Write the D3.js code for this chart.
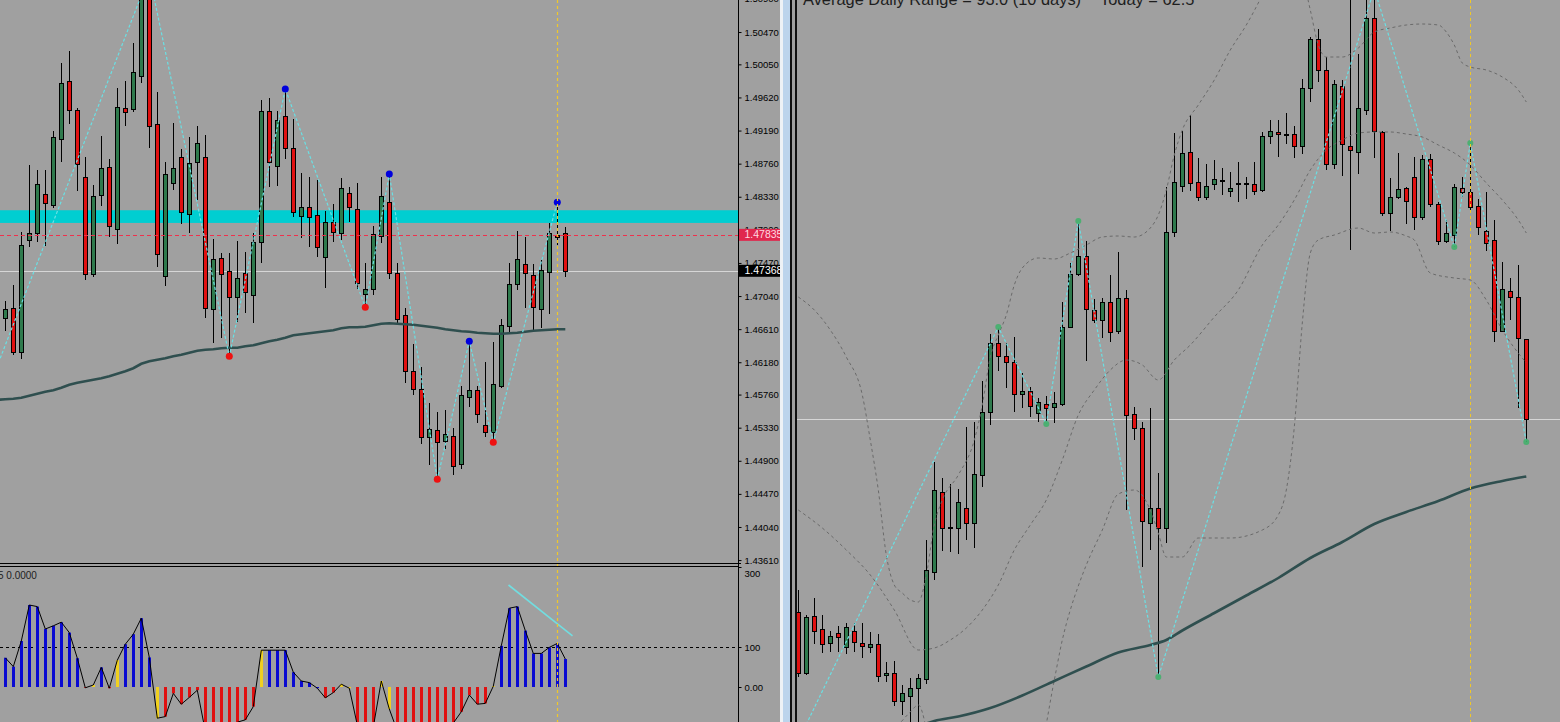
<!DOCTYPE html>
<html><head><meta charset="utf-8">
<script src="https://cdn.jsdelivr.net/npm/d3@7"></script>
<style>html,body{margin:0;padding:0;background:#a0a0a0;overflow:hidden}svg{display:block}</style>
</head><body>
<svg id="c" width="1560" height="722"></svg>
<script>
// ---------- LEFT CHART DATA (price) ----------
const leftOpen = [1.46752,1.46882,1.46310,1.47766,1.47857,1.48364,1.48221,1.49079,1.49833,1.49456,
1.48585,1.47324,1.48351,1.48715,1.47909,1.49482,1.49469,1.49898,1.50925,1.49274,
1.47298,1.48507,1.48845,1.48104,1.48780,1.48845,1.46869,1.47532,1.47363,1.47025,
1.47337,1.47051,1.47740,1.49443,1.48728,1.49378,1.48962,1.48078,1.48195,1.48091,
1.47545,1.48000,1.47857,1.48377,1.48169,1.47064,1.47129,1.47818,1.48260,1.47337,
1.46791,1.46063,1.45829,1.45205,1.45296,1.45153,1.45218,1.44854,1.45725,1.45816,
1.45361,1.45270,1.45868,1.46648,1.47194,1.47454,1.47311,1.46869,1.47350,1.47831,1.47857];
const leftHigh = [1.46973,1.47181,1.47870,1.48741,1.48676,1.48676,1.49183,1.50067,1.50223,1.49482,
1.48845,1.48481,1.49118,1.48819,1.49742,1.49833,1.50327,1.51016,1.51211,1.49690,
1.48780,1.49287,1.48949,1.49105,1.49248,1.49131,1.47779,1.47597,1.47597,1.47753,
1.47610,1.47857,1.49586,1.49612,1.49443,1.49729,1.49339,1.48637,1.48585,1.48546,
1.48143,1.48234,1.48572,1.48455,1.48507,1.47467,1.47948,1.48585,1.48624,1.47467,
1.46882,1.46414,1.46115,1.45647,1.45530,1.45556,1.45322,1.45868,1.46453,1.45868,
1.46180,1.46440,1.46739,1.47467,1.47883,1.47805,1.47454,1.47506,1.47987,1.48260,1.47935];
const leftLow = [1.46583,1.46271,1.46219,1.47675,1.47740,1.47688,1.48182,1.48780,1.49274,1.48403,
1.47246,1.47285,1.48208,1.47805,1.47714,1.49248,1.49430,1.49807,1.48962,1.47415,
1.47168,1.48416,1.47974,1.47857,1.48286,1.46752,1.46427,1.46492,1.46258,1.46700,
1.46817,1.46687,1.47467,1.48455,1.48468,1.48819,1.48065,1.47792,1.47675,1.47545,
1.47142,1.47740,1.47766,1.48000,1.47129,1.46895,1.47051,1.47727,1.47259,1.46687,
1.45907,1.45751,1.45114,1.44841,1.44659,1.45049,1.44711,1.44789,1.45595,1.45387,
1.45205,1.45140,1.45842,1.46544,1.47116,1.46882,1.46570,1.46622,1.46804,1.47701,1.47285];
const leftClose = [1.46869,1.46310,1.47701,1.47857,1.48494,1.48247,1.49105,1.49807,1.49456,1.48754,
1.47324,1.48338,1.48702,1.47948,1.49495,1.49430,1.49950,1.50951,1.49248,1.47584,
1.48624,1.48702,1.48130,1.48767,1.49027,1.46882,1.47519,1.47324,1.47025,1.47272,
1.47090,1.47740,1.49443,1.48780,1.49326,1.48962,1.48130,1.48195,1.48065,1.47675,
1.48000,1.47870,1.48442,1.48195,1.47207,1.47129,1.47844,1.48338,1.47337,1.46739,
1.46063,1.45829,1.45205,1.45309,1.45140,1.45244,1.44828,1.45751,1.45816,1.45504,
1.45270,1.45894,1.46661,1.47194,1.47519,1.47337,1.46895,1.47376,1.47857,1.47805,1.47368];
const leftMAStart = -1;
const leftMA = [1.45693,1.45699,1.45706,1.45718,1.45744,1.45770,1.45796,1.45816,1.45848,1.45887,1.45913,
1.45933,1.45952,1.45972,1.45998,1.46030,1.46063,1.46102,1.46160,1.46193,1.46212,
1.46232,1.46258,1.46277,1.46303,1.46329,1.46342,1.46349,1.46362,1.46368,1.46368,
1.46388,1.46401,1.46427,1.46453,1.46472,1.46498,1.46531,1.46544,1.46557,1.46570,
1.46583,1.46596,1.46622,1.46635,1.46635,1.46641,1.46661,1.46680,1.46687,1.46680,
1.46674,1.46667,1.46654,1.46641,1.46628,1.46609,1.46596,1.46583,1.46576,1.46563,
1.46557,1.46550,1.46550,1.46557,1.46563,1.46576,1.46589,1.46596,1.46602,1.46609,1.46609];
const leftZigIdx = [-2,18,28,35,45,48,54,58,61,69];
const leftZigVal = [1.45868,1.51211,1.46258,1.49729,1.46895,1.48624,1.44659,1.46453,1.45140,1.48260];
const leftZone = [1.47990,1.48155];
const leftRedLevel = 1.47835;
const leftBid = 1.47368;
const leftTicks = [1.50900,1.50470,1.50050,1.49620,1.49190,1.48760,1.48330,1.47900,1.47470,1.47040,
1.46610,1.46180,1.45760,1.45330,1.44900,1.44470,1.44040,1.43610];

// ---------- INDICATOR DATA ----------
const indVals = [73,51,115,205,201,145,153,162,136,72,
-2,5,49,-3,67,107,132,172,74,-78,
-74,-16,-43,-26,-8,-110,-120,-120,-110,-88,
-82,-49,92,92,92,92,37,15,11,-3,
-27,-14,7,-3,-95,-110,-100,15,-55,-110,
-120,-120,-120,-120,-120,-110,-90,-62,-20,-43,
-41,2,103,197,201,141,84,84,99,109,70];
const indColors = "bbbbbbbbbb" + "rybrybbbby" + "rrrrrrrrrr" + "rrybbbbbbb" + "rryyrrryyr" + "rrrrrrrrrr" + "ryb" + "bbbbbbbb";
const indTicks = [300,100,0];
const indLevel = 100;
const indTrendIdx = [62.9,70.9];
const indTrendVal = [255,128];

// ---------- RIGHT CHART DATA ----------
const rightOpen = [1.43508,1.42288,1.43428,1.43168,1.42888,1.43088,1.42808,1.43128,1.42888,1.42808,
1.42868,1.42248,1.42288,1.41728,1.41828,1.41988,1.42168,1.44308,1.45908,1.45178,
1.45188,1.45588,1.45288,1.46248,1.47508,1.48888,1.48628,1.48508,1.47868,1.47928,
1.47488,1.47668,1.47608,1.47668,1.49208,1.50268,1.50628,1.49548,1.49348,1.49708,
1.49128,1.49788,1.47468,1.47188,1.45288,1.45588,1.45188,1.51108,1.52028,1.52708,
1.52108,1.51808,1.52068,1.52138,1.51928,1.52058,1.52058,1.52068,1.51948,1.53028,
1.53108,1.53038,1.53068,1.52828,1.53988,1.54968,1.54348,1.52468,1.54028,1.52828,
1.52708,1.53548,1.55388,1.53108,1.51488,1.51808,1.51988,1.52208,1.51408,1.52568,
1.51668,1.50928,1.51048,1.51988,1.51908,1.51628,1.51128,1.50948,1.49128,1.49928,
1.49808,1.48968];
const rightHigh = [1.43948,1.43448,1.43788,1.43448,1.43128,1.43228,1.43288,1.43288,1.43288,1.43108,
1.43068,1.42508,1.42528,1.42048,1.42188,1.42268,1.44948,1.46508,1.46188,1.46068,
1.45968,1.47208,1.47308,1.48128,1.49068,1.49208,1.48888,1.49008,1.48288,1.48008,
1.47788,1.47828,1.47908,1.49708,1.50488,1.51328,1.50928,1.49768,1.49788,1.50248,
1.50708,1.49948,1.47608,1.47308,1.47588,1.46288,1.52008,1.53088,1.53128,1.53448,
1.52588,1.52468,1.52548,1.52388,1.52308,1.52508,1.52208,1.52508,1.53108,1.53348,
1.53348,1.53488,1.53228,1.54168,1.55008,1.55168,1.54608,1.54148,1.54148,1.55848,
1.54668,1.55808,1.55968,1.53128,1.52188,1.52688,1.52008,1.52608,1.52648,1.52668,
1.51708,1.51348,1.52068,1.52208,1.52888,1.51768,1.51908,1.51348,1.50508,1.50188,
1.50448,1.48968];
const rightLow = [1.42208,1.42248,1.42868,1.42688,1.42708,1.42708,1.42668,1.42708,1.42588,1.42688,
1.42108,1.42108,1.41628,1.41448,1.41248,1.41188,1.42068,1.44148,1.44728,1.44708,
1.44668,1.44948,1.44788,1.46008,1.47248,1.48328,1.47988,1.47508,1.47588,1.47408,
1.47308,1.47268,1.47288,1.47628,1.49188,1.50228,1.48528,1.49288,1.48988,1.48908,
1.49068,1.45548,1.46948,1.44408,1.44748,1.42208,1.44888,1.51008,1.51908,1.51928,
1.51728,1.51748,1.51948,1.51848,1.51808,1.51708,1.51768,1.51848,1.51908,1.52868,
1.52608,1.52868,1.52588,1.52668,1.53708,1.54108,1.52348,1.52368,1.52228,1.50748,
1.52268,1.53448,1.52588,1.51428,1.51128,1.51768,1.51268,1.51148,1.51348,1.51608,
1.50848,1.50888,1.50808,1.51808,1.51528,1.51048,1.50728,1.48908,1.49108,1.49348,
1.47588,1.46908];
const rightClose = [1.42288,1.43408,1.43128,1.42868,1.43028,1.43008,1.43208,1.42908,1.42828,1.42868,
1.42228,1.42288,1.41728,1.41888,1.41988,1.42188,1.44348,1.45948,1.45188,1.45198,
1.45708,1.45288,1.46268,1.47508,1.48888,1.48628,1.48508,1.47868,1.47928,1.47628,
1.47708,1.47588,1.47688,1.49208,1.50268,1.50628,1.49568,1.49348,1.49708,1.49108,
1.49788,1.47448,1.47188,1.45328,1.45588,1.45188,1.51108,1.52108,1.52688,1.52088,
1.51808,1.52028,1.52168,1.52158,1.51988,1.52078,1.52078,1.51928,1.53028,1.53128,
1.53068,1.53058,1.52828,1.53988,1.54968,1.54348,1.52468,1.54068,1.52868,1.52748,
1.53588,1.55388,1.53128,1.51488,1.51808,1.51968,1.51728,1.51408,1.52568,1.51668,
1.50928,1.51088,1.52008,1.51908,1.51608,1.51208,1.50888,1.49128,1.49968,1.49808,
1.48988,1.47368];
const rightMAIdx = [16,17,20,24,28,32,36,40,44,46,48,52,56,60,64,68,72,76,80,84,88,91];
const rightMAVal = [1.41278,1.41328,1.41418,1.41588,1.41838,1.42128,1.42418,1.42698,1.42848,1.42948,
1.43138,1.43488,1.43838,1.44188,1.44588,1.44908,1.45268,1.45508,1.45728,1.45978,1.46128,1.46218];
const rightZigIdx = [-2,25,31,35,45,72,82,84,91];
const rightZigVal = [1.40268,1.49208,1.47268,1.51328,1.42208,1.55968,1.50808,1.52888,1.46908];
const bbUpperIdx = [0,2,4,6,8,9,10,11,12,13,14,15,16,17,18,20,22,23,24,25,26,27,28,30,32,34,36,38,40,42,44,45,46,47,48,50,52,54,56,58,60,62,63,64,65,66,68,70,72,74,76,78,80,81,82,83,84,86,88,90,91];
const bbUpperVal = [1.49808,1.49548,1.49148,1.48608,1.47848,1.46948,1.45948,1.44648,1.44048,1.43888,1.43748,1.43708,1.44248,1.45248,1.45748,1.46248,1.46948,1.47648,1.48608,1.49048,1.49448,1.50048,1.50388,1.50588,1.50568,1.50688,1.50848,1.51008,1.51028,1.51008,1.51188,1.51448,1.51948,1.52648,1.53148,1.53648,1.54148,1.54748,1.55248,1.55848,1.56548,1.56748,1.56248,1.55548,1.54848,1.54608,1.54608,1.54788,1.55108,1.55188,1.55248,1.55268,1.55248,1.55108,1.54848,1.54488,1.54408,1.54348,1.54208,1.53948,1.53708];
const bbMidIdx = [0,3,6,9,12,15,17,19,21,23,25,27,29,31,33,35,37,39,41,43,45,47,49,52,55,58,60,62,64,66,68,70,72,74,76,78,80,82,84,86,88,90,91];
const bbMidVal = [1.45548,1.45188,1.44748,1.44248,1.43548,1.42748,1.42788,1.42948,1.43188,1.43548,1.44048,1.44748,1.45248,1.45748,1.46548,1.47448,1.47948,1.48348,1.48548,1.48448,1.48148,1.48548,1.48848,1.49408,1.49948,1.50848,1.51248,1.51748,1.52348,1.52748,1.52948,1.53088,1.53108,1.53108,1.53068,1.53008,1.52848,1.52688,1.52448,1.52088,1.51748,1.51348,1.51088];
const bbLowIdx = [0,6,10,12,14,15,16,17,24,30,32,33,34,35,36,38,40,42,44,45,46,48,50,54,58,60,61,62,63,64,65,67,70,72,74,76,77,79,82,84,86,88,91];
const bbLowVal = [1.40148,1.40248,1.40748,1.41148,1.41508,1.41648,1.41148,1.39948,1.39148,1.40548,1.42148,1.42948,1.43548,1.44028,1.44448,1.45148,1.45868,1.45948,1.45548,1.45088,1.44608,1.44608,1.44988,1.44988,1.45148,1.45448,1.45948,1.47208,1.49288,1.50688,1.50948,1.51048,1.51188,1.51088,1.51108,1.51028,1.50948,1.50288,1.50188,1.50148,1.49748,1.49148,1.48488];
const rightBid = 1.47368;
const adrText = "Average Daily Range = 93.0 (10 days)";
const todayText = "Today = 62.5";
const indLabel = "5 0.0000";

// ---------- SETUP ----------
const BG = '#a0a0a0', GREEN = '#2f7a4d', RED = '#e01010';
const svg = d3.select('#c');
const FONT = 'Liberation Sans, Arial, sans-serif';
svg.append('rect').attr('width',1560).attr('height',722).attr('fill',BG);
const defs = svg.append('defs');
defs.append('clipPath').attr('id','cm').append('rect').attr('x',0).attr('y',0).attr('width',738).attr('height',563);
defs.append('clipPath').attr('id','ci').append('rect').attr('x',0).attr('y',567).attr('width',738).attr('height',155);
defs.append('clipPath').attr('id','cr').append('rect').attr('x',797).attr('y',0).attr('width',763).attr('height',722);

const xL = d3.scaleLinear().domain([0,70]).range([5.3,565.3]);
const yL = d3.scaleLinear().domain([1.43546,1.50886]).range([565,0]);
const yI = d3.scaleLinear().domain([0,100]).range([687,647]);
const xR = d3.scaleLinear().domain([0,91]).range([798.3,1526.3]);
const yR = d3.scaleLinear().domain([1.41308,1.55748]).range([722,0]);

function candles(g, x, y, O, Hh, Lw, C){
  const idx = d3.range(O.length);
  g.selectAll('line.w').data(idx).join('line').attr('class','w')
    .attr('x1',i=>Math.round(x(i))+0.5).attr('x2',i=>Math.round(x(i))+0.5)
    .attr('y1',i=>y(Hh[i])).attr('y2',i=>y(Lw[i]))
    .attr('stroke','#000').attr('stroke-width',1).attr('shape-rendering','crispEdges');
  g.selectAll('rect.b').data(idx).join('rect').attr('class','b')
    .attr('x',i=>Math.round(x(i))-2+0.5)
    .attr('y',i=>Math.round(y(Math.max(O[i],C[i])))+0.5)
    .attr('width',4)
    .attr('height',i=>Math.max(1,Math.round(y(Math.min(O[i],C[i])))-Math.round(y(Math.max(O[i],C[i])))))
    .attr('fill',i=>C[i]>=O[i]?GREEN:RED)
    .attr('stroke','#000').attr('stroke-width',1).attr('shape-rendering','crispEdges');
}

// ---------- LEFT MAIN ----------
const gm = svg.append('g').attr('clip-path','url(#cm)');
gm.append('rect').attr('x',0).attr('width',738)
  .attr('y',yL(leftZone[1])).attr('height',yL(leftZone[0])-yL(leftZone[1])).attr('fill','#00ced1');
gm.append('line').attr('x1',0).attr('x2',738).attr('y1',Math.round(yL(leftBid))+0.5).attr('y2',Math.round(yL(leftBid))+0.5)
  .attr('stroke','#d6d6d6').attr('stroke-width',1);
candles(gm, xL, yL, leftOpen, leftHigh, leftLow, leftClose);
gm.append('path').datum(leftMA).attr('fill','none').attr('stroke','#2f4f4f').attr('stroke-width',2.6)
  .attr('d', d3.line().x((d,i)=>xL(i+leftMAStart)).y(d=>yL(d)));
gm.append('line').attr('x1',0).attr('x2',738).attr('y1',Math.round(yL(leftRedLevel))+0.5).attr('y2',Math.round(yL(leftRedLevel))+0.5)
  .attr('stroke','#f0304c').attr('stroke-width',1.2).attr('stroke-dasharray','4,3');
gm.append('path').datum(leftZigVal).attr('fill','none').attr('stroke','#6ae0e4').attr('stroke-width',1.2)
  .attr('stroke-dasharray','3,2')
  .attr('d', d3.line().x((d,j)=>xL(leftZigIdx[j])).y(d=>yL(d)));
gm.selectAll('circle').data(leftZigIdx.map((k,j)=>({k,v:leftZigVal[j],hi:j%2===1}))).join('circle')
  .attr('cx',d=>xL(d.k)).attr('cy',d=>yL(d.v)).attr('r',3.5)
  .attr('fill',d=>d.hi?'#0000dd':'#ee1111');

// ---------- LEFT INDICATOR ----------
const gi = svg.append('g').attr('clip-path','url(#ci)');
gi.append('line').attr('x1',0).attr('x2',738).attr('y1',Math.round(yI(indLevel))+0.5).attr('y2',Math.round(yI(indLevel))+0.5)
  .attr('stroke','#000').attr('stroke-dasharray','3,3');
const colMap = {b:'#0a0ad2', r:'#e01010', y:'#f0d020'};
gi.selectAll('rect.h').data(indVals).join('rect').attr('class','h')
  .attr('x',(d,i)=>Math.round(xL(i))-1).attr('width',3)
  .attr('y',d=>Math.min(yI(d),yI(0))).attr('height',d=>Math.abs(yI(d)-yI(0)))
  .attr('fill',(d,i)=>colMap[indColors[i]]||(d>=0?'#0a0ad2':'#e01010'));
gi.append('path').datum(indVals).attr('fill','none').attr('stroke','#000').attr('stroke-width',1)
  .attr('d', d3.line().x((d,i)=>xL(i)).y(d=>yI(d)));
gi.append('path').datum(indTrendVal).attr('fill','none').attr('stroke','#72dde0').attr('stroke-width',1.6)
  .attr('d', d3.line().x((d,j)=>xL(indTrendIdx[j])).y(d=>yI(d)));
svg.append('text').attr('x',-2).attr('y',578.5).attr('font-family',FONT).attr('font-size',10)
  .attr('fill','#222').text(indLabel);

// vertical yellow dashed (left)
svg.append('line').attr('x1',Math.round(xL(69))+0.5).attr('x2',Math.round(xL(69))+0.5).attr('y1',0).attr('y2',722)
  .attr('stroke','#f0c828').attr('stroke-dasharray','3,3').attr('stroke-width',1.2);

// separators and axes
svg.append('line').attr('x1',0).attr('x2',741).attr('y1',563.5).attr('y2',563.5).attr('stroke','#000');
svg.append('line').attr('x1',0).attr('x2',738.5).attr('y1',566.5).attr('y2',566.5).attr('stroke','#000');
svg.append('line').attr('x1',738.5).attr('x2',738.5).attr('y1',0).attr('y2',722).attr('stroke','#000');

const axL = d3.axisRight(yL).tickValues(leftTicks).tickFormat(d3.format('.5f')).tickSize(3).tickPadding(3);
const gAx = svg.append('g').attr('transform','translate(738.5,0)').call(axL);
gAx.select('.domain').remove();
gAx.attr('font-family',FONT).attr('font-size',9.5);
gAx.selectAll('text').attr('fill','#000');
gAx.selectAll('line').attr('stroke','#000');

const axI = d3.axisRight(yI).tickValues(indTicks).tickFormat(d=>d===0?'0.00':String(d)).tickSize(3).tickPadding(3);
const gAi = svg.append('g').attr('transform','translate(738.5,0)').call(axI);
gAi.select('.domain').remove();
gAi.attr('font-family',FONT).attr('font-size',9.5);
gAi.selectAll('text').attr('fill','#000').attr('dy',d=>d===300?'1.0em':'0.32em');
gAi.selectAll('line').attr('stroke','#000');

// price tags
function tag(price, fill, txtColor){
  const y = yL(price);
  svg.append('rect').attr('x',739).attr('y',y-6).attr('width',43).attr('height',12).attr('fill',fill);
  svg.append('text').attr('x',744.5).attr('y',y).attr('dy','0.34em').attr('font-family',FONT)
    .attr('font-size',10.5).attr('fill',txtColor).text(d3.format('.5f')(price));
}
tag(leftRedLevel,'#e0284e','#ffd8e0');
tag(leftBid,'#000','#fff');

// ---------- FRAME ----------
svg.append('rect').attr('x',780).attr('y',0).attr('width',3).attr('height',722).attr('fill','#eef2f6');
svg.append('rect').attr('x',783).attr('y',0).attr('width',7).attr('height',722).attr('fill','#bcd4ec');
svg.append('rect').attr('x',790).attr('y',0).attr('width',2).attr('height',722).attr('fill','#101010');
svg.append('rect').attr('x',792).attr('y',0).attr('width',3).attr('height',722).attr('fill',BG);
svg.append('rect').attr('x',795).attr('y',0).attr('width',2).attr('height',722).attr('fill','#101010');

// ---------- RIGHT CHART ----------
const gr = svg.append('g').attr('clip-path','url(#cr)');
gr.append('line').attr('x1',797).attr('x2',1560).attr('y1',Math.round(yR(rightBid))+0.5).attr('y2',Math.round(yR(rightBid))+0.5)
  .attr('stroke','#d6d6d6');
candles(gr, xR, yR, rightOpen, rightHigh, rightLow, rightClose);
function band(idx, val){
  gr.append('path').datum(val).attr('fill','none').attr('stroke','#6a6a6a').attr('stroke-width',1)
    .attr('stroke-dasharray','3,3')
    .attr('d', d3.line().x((d,j)=>xR(idx[j])).y(d=>yR(d)).curve(d3.curveMonotoneX));
}
band(bbUpperIdx, bbUpperVal);
band(bbMidIdx, bbMidVal);
band(bbLowIdx, bbLowVal);
gr.append('path').datum(rightMAVal).attr('fill','none').attr('stroke','#2f4f4f').attr('stroke-width',2.6)
  .attr('d', d3.line().x((d,j)=>xR(rightMAIdx[j])).y(d=>yR(d)).curve(d3.curveMonotoneX));
gr.append('path').datum(rightZigVal).attr('fill','none').attr('stroke','#6ae0e4').attr('stroke-width',1.2)
  .attr('stroke-dasharray','3,2')
  .attr('d', d3.line().x((d,j)=>xR(rightZigIdx[j])).y(d=>yR(d)));
gr.selectAll('circle').data(rightZigIdx.map((k,j)=>({k,v:rightZigVal[j]}))).join('circle')
  .attr('cx',d=>xR(d.k)).attr('cy',d=>yR(d.v)).attr('r',3).attr('fill','#44b06c').attr('opacity',0.9);
gr.append('line').attr('x1',Math.round(xR(84))+0.5).attr('x2',Math.round(xR(84))+0.5).attr('y1',0).attr('y2',722)
  .attr('stroke','#f0c828').attr('stroke-dasharray','3,3');
gr.append('text').attr('x',803).attr('y',5).attr('font-family',FONT).attr('font-size',16.4).attr('fill','#1e1e1e').text(adrText);
gr.append('text').attr('x',1100).attr('y',5).attr('font-family',FONT).attr('font-size',16.4).attr('fill','#1e1e1e').text(todayText);
</script>
</body></html>
